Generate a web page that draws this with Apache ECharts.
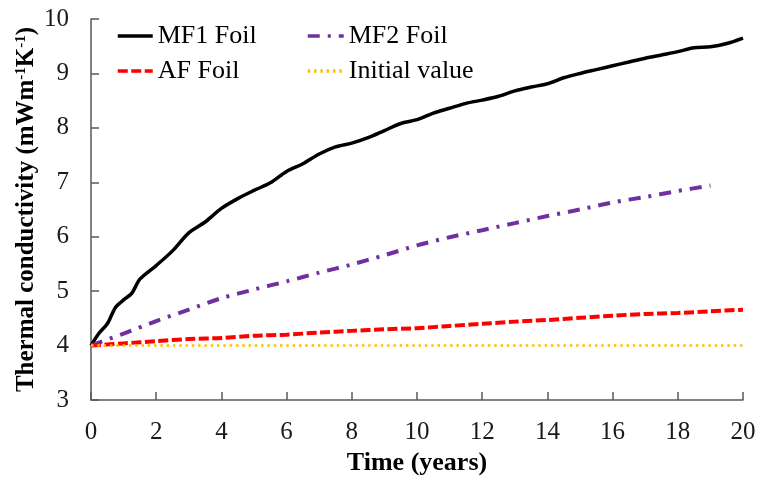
<!DOCTYPE html>
<html>
<head>
<meta charset="utf-8">
<script src="https://cdn.jsdelivr.net/npm/echarts@6/dist/echarts.min.js"></script>
<style>
  html, body { margin: 0; padding: 0; background: #fff; }
  #chart { width: 758px; height: 478px; }
</style>
</head>
<body>
<div id="chart"></div>
<script>
// Thermal conductivity over time for the foil-faced boards
const mf1Years = [0, 0.25, 0.5, 0.75, 1, 1.25, 1.5, 2, 2.5, 3, 3.5, 4, 4.5, 5, 5.5, 6, 6.5, 7, 7.5, 8, 8.5, 9, 9.5, 10,
                  10.5, 11, 11.5, 12, 12.5, 13, 13.5, 14, 14.5, 15, 15.5, 16, 16.5, 17, 17.5, 18, 18.5, 19, 19.5, 20];
const mf1Values = [4.00, 4.23, 4.40, 4.70, 4.84, 4.96, 5.22, 5.47, 5.74, 6.07, 6.27, 6.52, 6.70, 6.85, 6.99, 7.20, 7.34, 7.52, 7.65, 7.72, 7.82, 7.95, 8.08, 8.15,
                   8.27, 8.36, 8.45, 8.51, 8.58, 8.68, 8.75, 8.81, 8.92, 9.00, 9.07, 9.14, 9.21, 9.28, 9.34, 9.40, 9.47, 9.49, 9.55, 9.65];

const mf2Years = [0, 1, 2, 3, 4, 5, 6, 7, 8, 9, 10, 11, 12, 13, 14, 15, 16, 17, 18, 19];
const mf2Values = [4.00, 4.22, 4.45, 4.66, 4.87, 5.03, 5.18, 5.34, 5.49, 5.66, 5.84, 5.99, 6.12, 6.25, 6.38, 6.50, 6.63, 6.73, 6.84, 6.94];

const afYears = [0, 1, 2, 3, 4, 5, 6, 7, 8, 9, 10, 11, 12, 13, 14, 15, 16, 17, 18, 19, 20];
const afValues = [4.00, 4.04, 4.08, 4.12, 4.14, 4.18, 4.20, 4.24, 4.27, 4.30, 4.32, 4.36, 4.40, 4.44, 4.47, 4.51, 4.55, 4.58, 4.60, 4.63, 4.66];

const initYears = [0, 20];
const initValues = [4.0, 4.0];

const xTicks = [0, 2, 4, 6, 8, 10, 12, 14, 16, 18, 20];
const yTicks = [3, 4, 5, 6, 7, 8, 9, 10];

const pairs = (xs, ys) => xs.map((x, i) => [x, ys[i]]);

const serif = '"Liberation Serif", "Times New Roman", serif';
const axisColor = '#595959';

const chart = echarts.init(document.getElementById('chart'), null, { renderer: 'canvas' });

const lineSeries = (name, xs, ys, color, type, width, smooth) => ({
  name,
  type: 'line',
  data: pairs(xs, ys),
  symbol: 'none',
  showSymbol: false,
  smooth: smooth,
  lineStyle: { color, type, width, cap: 'butt' },
  itemStyle: { color },
  z: 3
});

const legendText = { fontFamily: serif, fontSize: 26, color: '#000' };

chart.setOption({
  animation: false,
  backgroundColor: '#fff',
  grid: { left: 91, right: 15, top: 19, bottom: 78, containLabel: false, outerBoundsMode: 'none' },
  legend: [
    {
      data: ['MF1 Foil', 'AF Foil'],
      orient: 'vertical',
      left: 116, top: 23,
      padding: 0,
      itemWidth: 35, itemHeight: 14, itemGap: 9,
      itemStyle: { opacity: 0 },
      lineStyle: { width: 3.5 },
      textStyle: legendText
    },
    {
      data: ['MF2 Foil', 'Initial value'],
      orient: 'vertical',
      left: 306, top: 23,
      padding: 0,
      itemWidth: 36, itemHeight: 14, itemGap: 9,
      itemStyle: { opacity: 0 },
      lineStyle: { width: 3.5 },
      textStyle: legendText
    }
  ],
  xAxis: {
    type: 'value',
    min: xTicks[0], max: xTicks[xTicks.length - 1], interval: 2,
    name: 'Time (years)',
    nameLocation: 'middle',
    nameGap: 50,
    nameMoveOverlap: false,
    nameTextStyle: { fontFamily: serif, fontSize: 26, fontWeight: 'bold', color: '#000' },
    axisLine: { lineStyle: { color: axisColor, width: 1.5 } },
    axisTick: { inside: true, length: 8, lineStyle: { color: axisColor, width: 1.5 } },
    axisLabel: { fontFamily: serif, fontSize: 25, color: '#1a1a1a', margin: 20 },
    splitLine: { show: false }
  },
  yAxis: {
    type: 'value',
    min: yTicks[0], max: yTicks[yTicks.length - 1], interval: 1,
    name: 'Thermal conductivity (mWm{sup|-1}K{sup|-1})',
    nameLocation: 'middle',
    nameGap: 52,
    nameMoveOverlap: false,
    nameRotate: 90,
    nameTextStyle: {
      fontFamily: serif, fontSize: 25, fontWeight: 'bold', color: '#000',
      rich: {
        sup: { fontFamily: serif, fontSize: 15, fontWeight: 'bold', color: '#000', verticalAlign: 'top' }
      }
    },
    axisLine: { show: true, lineStyle: { color: axisColor, width: 1.5 } },
    axisTick: { show: true, inside: true, length: 8, lineStyle: { color: axisColor, width: 1.5 } },
    axisLabel: { fontFamily: serif, fontSize: 25, color: '#1a1a1a', margin: 22 },
    splitLine: { show: false }
  },
  series: [
    lineSeries('MF1 Foil', mf1Years, mf1Values, '#000000', 'solid', 3.5, 0.3),
    lineSeries('MF2 Foil', mf2Years, mf2Values, '#7030A0', [12, 8, 3, 8], 4, 0.3),
    lineSeries('AF Foil', afYears, afValues, '#FF0000', [10, 3.5], 4, 0.3),
    lineSeries('Initial value', initYears, initValues, '#FFC000', [2.5, 3.8], 2.5, false)
  ]
});
</script>
</body>
</html>
